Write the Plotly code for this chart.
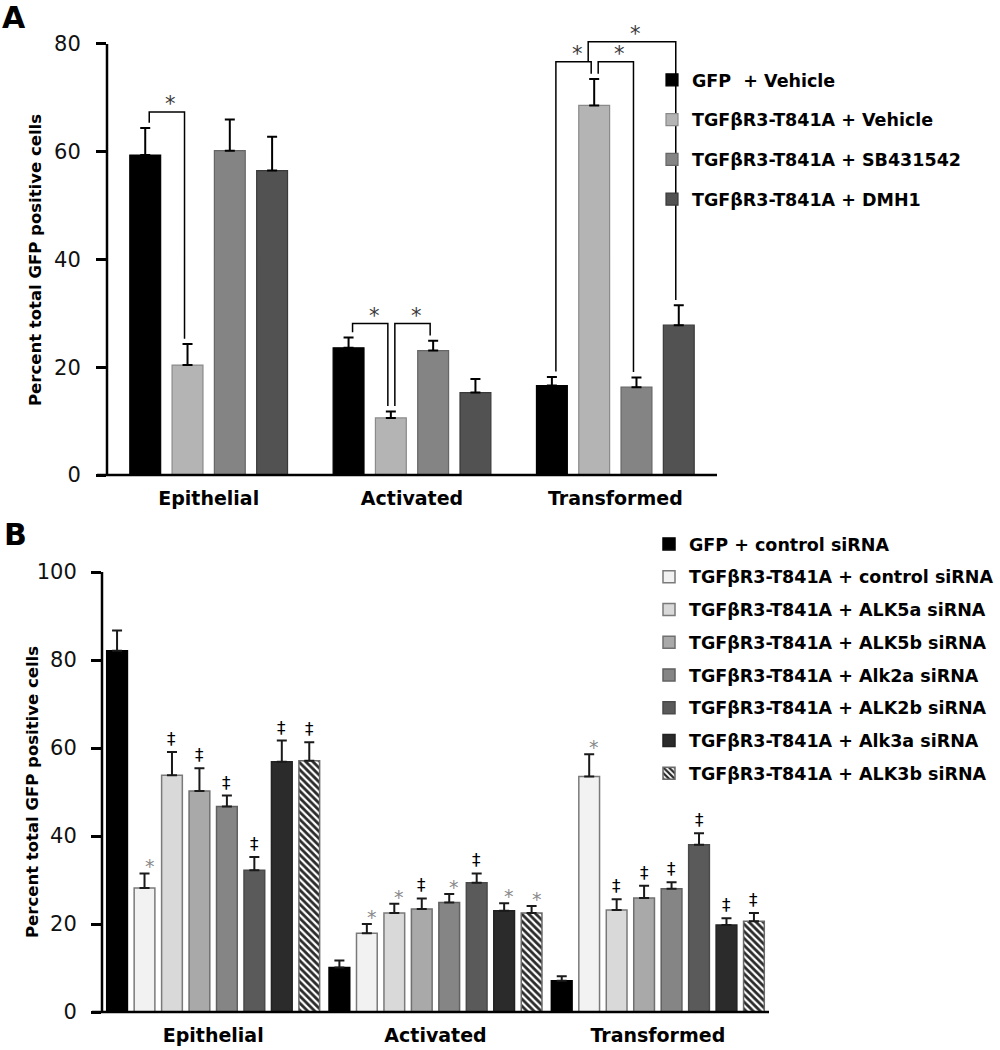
import plotly.graph_objects as go

# ---------------- data ----------------
categories = ["Epithelial", "Activated", "Transformed"]

# Panel A
a_names = ["GFP  + Vehicle", "TGFβR3-T841A + Vehicle",
           "TGFβR3-T841A + SB431542", "TGFβR3-T841A + DMH1"]
a_gfp_vehicle = [59.4, 23.6, 16.6]
a_gfp_vehicle_err = [5.0, 1.9, 1.6]
a_t841a_vehicle = [20.4, 10.6, 68.6]
a_t841a_vehicle_err = [3.9, 1.2, 4.9]
a_t841a_sb431542 = [60.2, 23.1, 16.3]
a_t841a_sb431542_err = [5.8, 1.8, 1.8]
a_t841a_dmh1 = [56.5, 15.3, 27.8]
a_t841a_dmh1_err = [6.3, 2.5, 3.7]
a_yticks = [0, 20, 40, 60, 80]
# significance brackets: (category, left series, right series)
a_sig_pairs = [(0, 0, 1), (1, 0, 1), (1, 1, 2), (2, 0, 1), (2, 1, 2), (2, 1, 3)]
a_sig_levels = [67.4, 28.1, 28.1, 76.7, 76.7, 80.4]

# Panel B
b_names = ["GFP + control siRNA", "TGFβR3-T841A + control siRNA",
           "TGFβR3-T841A + ALK5a siRNA", "TGFβR3-T841A + ALK5b siRNA",
           "TGFβR3-T841A + Alk2a siRNA", "TGFβR3-T841A + ALK2b siRNA",
           "TGFβR3-T841A + Alk3a siRNA", "TGFβR3-T841A + ALK3b siRNA"]
b_gfp_ctrl = [82.1, 10.1, 7.1]
b_gfp_ctrl_err = [4.6, 1.6, 1.0]
b_t841a_ctrl = [28.2, 17.9, 53.5]
b_t841a_ctrl_err = [3.3, 2.1, 5.1]
b_alk5a = [53.8, 22.5, 23.2]
b_alk5a_err = [5.3, 2.1, 2.4]
b_alk5b = [50.2, 23.4, 25.9]
b_alk5b_err = [5.2, 2.4, 2.8]
b_alk2a = [46.7, 24.9, 28.0]
b_alk2a_err = [2.5, 1.9, 1.5]
b_alk2b = [32.2, 29.4, 38.0]
b_alk2b_err = [3.0, 2.1, 2.6]
b_alk3a = [56.9, 23.0, 19.8]
b_alk3a_err = [4.8, 1.7, 1.5]
b_alk3b = [57.1, 22.5, 20.6]
b_alk3b_err = [4.2, 1.6, 1.9]
b_yticks = [0, 20, 40, 60, 80, 100]
# significance marks per series (Epithelial, Activated, Transformed)
b_marks = [["", "", ""],
           ["*", "*", "*"],
           ["‡", "*", "‡"],
           ["‡", "‡", "‡"],
           ["‡", "*", "‡"],
           ["‡", "‡", "‡"],
           ["‡", "*", "‡"],
           ["‡", "*", "‡"]]

a_means = [a_gfp_vehicle, a_t841a_vehicle, a_t841a_sb431542, a_t841a_dmh1]
a_errs = [a_gfp_vehicle_err, a_t841a_vehicle_err, a_t841a_sb431542_err, a_t841a_dmh1_err]
b_means = [b_gfp_ctrl, b_t841a_ctrl, b_alk5a, b_alk5b, b_alk2a, b_alk2b, b_alk3a, b_alk3b]
b_errs = [b_gfp_ctrl_err, b_t841a_ctrl_err, b_alk5a_err, b_alk5b_err,
          b_alk2a_err, b_alk2b_err, b_alk3a_err, b_alk3b_err]

# ---------------- styles / layout ----------------
W, H = 1000, 1050
BOLD = "DejaVu Sans"
a_colors = ["#000000", "#b4b4b4", "#848484", "#525252"]
a_lines = ["#000000", "#8a8a8a", "#666666", "#3a3a3a"]
b_colors = ["#000000", "#f2f2f2", "#d9d9d9", "#a9a9a9", "#858585", "#5a5a5a", "#2b2b2b", "#ffffff"]
b_lines = ["#000000", "#7a7a7a", "#7a7a7a", "#707070", "#606060", "#4a4a4a", "#222222", "#6a6a6a"]

# pixel geometry of the two plot areas
A_X0, A_X1, A_Y0PX, A_Y80PX = 107, 717, 475, 44
A_YMAX = 86
B_X0, B_X1, B_Y0PX, B_Y100PX = 102, 769, 1012, 572

a_ppu = (A_Y0PX - A_Y80PX) / 80.0
a_top_px = A_Y0PX - A_YMAX * a_ppu
a_dom_x = [A_X0 / W, A_X1 / W]
a_dom_y = [1 - A_Y0PX / H, 1 - a_top_px / H]
b_dom_x = [B_X0 / W, B_X1 / W]
b_dom_y = [1 - B_Y0PX / H, 1 - B_Y100PX / H]

A_BARGAP, A_GROUPGAP = 0.168, 0.27
B_BARGAP, B_GROUPGAP = 0.012, 0.245

fig = go.Figure()

for i, name in enumerate(a_names):
    fig.add_trace(go.Bar(
        x=categories, y=a_means[i], name=name, xaxis="x", yaxis="y",
        marker=dict(color=a_colors[i], line=dict(color=a_lines[i], width=1.2)),
        error_y=dict(type="data", array=a_errs[i], arrayminus=[0] * 3, symmetric=False,
                     color="#000000", thickness=2, width=5),
        legend="legend", legendgroup="a%d" % i, offsetgroup="a%d" % i))

for i, name in enumerate(b_names):
    marker = dict(color=b_colors[i], line=dict(color=b_lines[i], width=1.5))
    if i == 7:
        marker["pattern"] = dict(shape="\\", fgcolor="#2a2a2a", bgcolor="#ffffff",
                                 size=5, solidity=0.55, fillmode="replace")
    fig.add_trace(go.Bar(
        x=categories, y=b_means[i], name=name, xaxis="x2", yaxis="y2",
        marker=marker,
        error_y=dict(type="data", array=b_errs[i], arrayminus=[0] * 3, symmetric=False,
                     color="#1a1a1a", thickness=2, width=5),
        legend="legend2", legendgroup="b%d" % i))

shapes = []
annotations = []


def bar_x(cat, k, n, bargap):
    return cat + (k - (n - 1) / 2.0) * (1 - bargap) / n


# --- panel A brackets ---
a_unit_px = (A_X1 - A_X0) / 3.0
for idx, ((cat, i, j), lvl) in enumerate(zip(a_sig_pairs, a_sig_levels)):
    def leg_bottom(b):
        lower = [a_sig_levels[k] for k, (c2, i2, j2) in enumerate(a_sig_pairs)
                 if k != idx and c2 == cat and i2 <= b <= j2 and a_sig_levels[k] < lvl]
        if lower:
            return max(lower), True
        return a_means[b][cat] + a_errs[b][cat] + 1.0, False
    lb, nested = leg_bottom(i)
    rb, _ = leg_bottom(j)
    xl = bar_x(cat, i, 4, A_BARGAP) + ((-6 if nested else 4) / a_unit_px)
    xr = bar_x(cat, j, 4, A_BARGAP) - 3 / a_unit_px
    shapes.append(dict(type="path", xref="x", yref="y",
                       path="M %f,%f L %f,%f L %f,%f L %f,%f" % (xl, lb, xl, lvl, xr, lvl, xr, rb),
                       line=dict(color="#000000", width=1.5)))
    annotations.append(dict(x=(xl + xr) / 2, y=lvl, xref="x", yref="y", text="*",
                            showarrow=False, yanchor="bottom", xshift=4, yshift=-6,
                            font=dict(family="DejaVu Sans", size=21, color="#3a3a3a")))

# --- panel B marks ---
for i in range(8):
    for c in range(3):
        m = b_marks[i][c]
        if not m:
            continue
        star = (m == "*")
        annotations.append(dict(
            x=bar_x(c, i, 8, B_BARGAP), y=b_means[i][c] + b_errs[i][c],
            xref="x2", yref="y2", text=m, showarrow=False, yanchor="bottom",
            xshift=5 if star else 0, yshift=-6 if star else 1,
            font=dict(family="DejaVu Sans", size=19 if star else 17,
                      color="#8a8a8a" if star else "#000000")))


# --- axis lines (drawn in paper coords so they can extend past the plot area) ---
def px2paper_x(px):
    return px / W


def px2paper_y(py):
    return 1 - py / H


shapes += [
    dict(type="line", xref="paper", yref="paper", x0=px2paper_x(A_X0), x1=px2paper_x(A_X0),
         y0=px2paper_y(A_Y0PX), y1=px2paper_y(A_Y80PX), line=dict(color="#000", width=2.5)),
    dict(type="line", xref="paper", yref="paper", x0=px2paper_x(A_X0 - 10), x1=px2paper_x(A_X1),
         y0=px2paper_y(A_Y0PX), y1=px2paper_y(A_Y0PX), line=dict(color="#000", width=2.5)),
    dict(type="line", xref="paper", yref="paper", x0=px2paper_x(B_X0), x1=px2paper_x(B_X0),
         y0=px2paper_y(B_Y0PX), y1=px2paper_y(B_Y100PX), line=dict(color="#000", width=2.5)),
    dict(type="line", xref="paper", yref="paper", x0=px2paper_x(B_X0 - 10), x1=px2paper_x(B_X1),
         y0=px2paper_y(B_Y0PX), y1=px2paper_y(B_Y0PX), line=dict(color="#000", width=2.5)),
]

# panel letters and y titles
annotations += [
    dict(x=0.0, y=1.0, xref="paper", yref="paper", text="<b>A</b>", showarrow=False,
         xanchor="left", yanchor="top", yshift=2, font=dict(family=BOLD, size=30, color="#000")),
    dict(x=0.002, y=px2paper_y(515), xref="paper", yref="paper", text="<b>B</b>", showarrow=False,
         xanchor="left", yanchor="top", font=dict(family=BOLD, size=30, color="#000")),
    dict(x=px2paper_x(35), y=px2paper_y(260), xref="paper", yref="paper",
         xanchor="center", yanchor="middle",
         text="<b>Percent total GFP positive cells</b>", textangle=-90, showarrow=False,
         font=dict(family=BOLD, size=16.5, color="#000")),
    dict(x=px2paper_x(32), y=px2paper_y(792), xref="paper", yref="paper",
         xanchor="center", yanchor="middle",
         text="<b>Percent total GFP positive cells</b>", textangle=-90, showarrow=False,
         font=dict(family=BOLD, size=16.5, color="#000")),
]

tickfont = dict(family="DejaVu Sans", size=21, color="#111")
catfont = dict(family=BOLD, size=19, color="#000", weight="bold")

fig.update_layout(
    width=W, height=H, template="none",
    paper_bgcolor="white", plot_bgcolor="white",
    margin=dict(l=0, r=0, t=0, b=0, pad=0),
    barmode="group",
    bargap=A_BARGAP, bargroupgap=A_GROUPGAP,
    showlegend=True,
    xaxis=dict(domain=a_dom_x, range=[-0.5, 2.5], showline=False, ticks="",
               showgrid=False, zeroline=False, tickfont=catfont, ticklabelstandoff=10,
               anchor="y"),
    yaxis=dict(domain=a_dom_y, range=[0, A_YMAX], tickvals=a_yticks, showline=False,
               ticks="outside", ticklen=10, tickwidth=2.5, tickcolor="#000",
               showgrid=False, zeroline=False, tickfont=tickfont, ticklabelstandoff=11,
               anchor="x"),
    xaxis2=dict(domain=b_dom_x, range=[-0.5, 2.5], showline=False, ticks="",
                showgrid=False, zeroline=False, tickfont=catfont, ticklabelstandoff=10,
                anchor="y2"),
    yaxis2=dict(domain=b_dom_y, range=[0, 100], tickvals=b_yticks, showline=False,
                ticks="outside", ticklen=10, tickwidth=2.5, tickcolor="#000",
                showgrid=False, zeroline=False, tickfont=tickfont, ticklabelstandoff=10,
                anchor="x2"),
    legend=dict(x=652 / W, y=px2paper_y(62), xanchor="left", yanchor="top",
                font=dict(family=BOLD, size=17.5, color="#000", weight="bold"),
                tracegroupgap=14, bgcolor="rgba(0,0,0,0)", itemclick=False),
    legend2=dict(x=649 / W, y=px2paper_y(526), xanchor="left", yanchor="top",
                 font=dict(family=BOLD, size=17.5, color="#000", weight="bold"),
                 tracegroupgap=7, bgcolor="rgba(0,0,0,0)", itemclick=False),
    shapes=shapes, annotations=annotations,
)

# panel B uses its own bar spacing: per-trace width/offset
b_step = (1 - B_BARGAP) / 8
for t in fig.data:
    if t.xaxis == "x2":
        k = int(t.legendgroup[1:])
        t.width = b_step * (1 - B_GROUPGAP)
        t.offset = (k - 4) * b_step + b_step * B_GROUPGAP / 2

fig.write_html("out.html", config={"displayModeBar": False},
               post_script="document.body.style.margin='0';")
